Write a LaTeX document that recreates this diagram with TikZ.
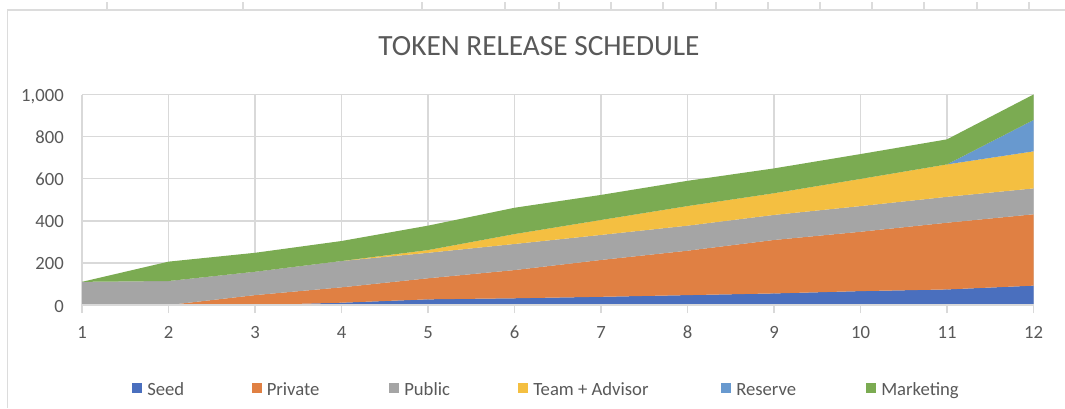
\documentclass[tikz,border=0pt]{standalone}
\usepackage{fontspec}
\setmainfont{Carlito}
\definecolor{cSeed}{HTML}{4A6FBE}
\definecolor{cPrivate}{HTML}{E08043}
\definecolor{cPublic}{HTML}{A5A5A5}
\definecolor{cTeam}{HTML}{F4BF41}
\definecolor{cReserve}{HTML}{6899CF}
\definecolor{cMarketing}{HTML}{7BAB52}
\definecolor{txt}{HTML}{595959}
\definecolor{gridc}{HTML}{D9D9D9}
\definecolor{framec}{HTML}{DCDCDC}
\tikzset{
  gridline/.style={draw=gridc, line width=1.1pt},
  axisline/.style={draw=gridc, line width=1.1pt},
  framel/.style={draw=framec, line width=1.3pt},
  coltick/.style={draw=framec, line width=1pt},
  ylab/.style={text=txt, font=\fontsize{14}{16}\selectfont, inner sep=0pt, anchor=base east},
  xlab/.style={text=txt, font=\fontsize{14}{16}\selectfont, inner sep=0pt, anchor=base},
  leglab/.style={text=txt, font=\fontsize{14}{16}\selectfont, inner sep=0pt, anchor=base west},
  legsq/.style={minimum size=7.5pt, inner sep=0pt, anchor=north west},
  titlestyle/.style={text=txt, font=\fontsize{22}{26}\selectfont, inner sep=0pt, anchor=base},
}
\begin{document}
\begin{tikzpicture}[x=0.75pt,y=-0.75pt]
\useasboundingbox (0,0) rectangle (1065,408);
\fill[white] (0,0) rectangle (1065,408);
% sheet column marks and chart frame
\foreach \c in {107,243,422,505,559,611,663,716,768,820,872,924,977,1029}
  \draw[coltick] (\c,2) -- (\c,10);
\draw[framel] (7.5,408) -- (7.5,10) -- (1065,10);
% title
\node[titlestyle] (title) at (539,55.5) {TOKEN RELEASE SCHEDULE};
% plot
\begin{scope}[shift={(-4.5,305)}, x=64.875pt, y=0.157875pt]
  \foreach \v in {200,400,...,1000} \draw[gridline] (1,\v) -- (12,\v);
  \foreach \i in {1,...,12} \draw[gridline] (\i,-38) -- (\i,1000);
  % Seed
  \fill[cSeed] (1,0) -- (2,0) -- (3,0) -- (4,11) -- (5,27) -- (6,32) -- (7,39) -- (8,47) -- (9,55) -- (10,66) -- (11,74) -- (12,92) -- (12,0) -- cycle;
  % Private
  \fill[cPrivate] (1,0) -- (2,0) -- (3,47) -- (4,84) -- (5,127) -- (6,166) -- (7,214) -- (8,258) -- (9,309) -- (10,348) -- (11,391) -- (12,431)
    -- (12,92) -- (11,74) -- (10,66) -- (9,55) -- (8,47) -- (7,39) -- (6,32) -- (5,27) -- (4,11) -- (3,0) -- (2,0) -- cycle;
  % Public
  \fill[cPublic] (1,110) -- (2,114) -- (3,158) -- (4,209) -- (5,248) -- (6,290) -- (7,333) -- (8,377) -- (9,428) -- (10,470) -- (11,514) -- (12,554)
    -- (12,431) -- (11,391) -- (10,348) -- (9,309) -- (8,258) -- (7,214) -- (6,166) -- (5,127) -- (4,84) -- (3,47) -- (2,0) -- (1,0) -- cycle;
  % Team + Advisor
  \fill[cTeam] (4,209) -- (5,261) -- (6,337) -- (7,404) -- (8,470) -- (9,531) -- (10,599) -- (11,668) -- (12,730)
    -- (12,554) -- (11,514) -- (10,470) -- (9,428) -- (8,377) -- (7,333) -- (6,290) -- (5,248) -- cycle;
  % Reserve
  \fill[cReserve] (11,668) -- (12,879) -- (12,730) -- cycle;
  % Marketing
  \fill[cMarketing] (1,110) -- (2,206) -- (3,248) -- (4,304) -- (5,377) -- (6,462) -- (7,523) -- (8,590) -- (9,649) -- (10,717) -- (11,787) -- (12,1000)
    -- (12,879) -- (11,668) -- (10,599) -- (9,531) -- (8,470) -- (7,404) -- (6,337) -- (5,261) -- (4,209) -- (3,158) -- (2,114) -- cycle;
  \draw[axisline] (1,0) -- (12,0);
  \foreach \v/\t in {0/0,200/200,400/400,600/600,800/800,1000/{1,000}}
    \node[ylab] (y\v) at ([xshift=-13.5pt,yshift=-5.25pt]1,\v) {\t};
  \foreach \i in {1,...,12}
    \node[xlab] (x\i) at ([yshift=-24.75pt]\i,0) {\i};
\end{scope}
% legend
\foreach \n/\c/\t/\x in {seed/cSeed/Seed/147, priv/cPrivate/Private/266.5, pub/cPublic/Public/404, team/cTeam/Team + Advisor/533, res/cReserve/Reserve/736, mkt/cMarketing/Marketing/881}{
  \node[legsq, fill=\c] (sq\n) at (\x-15,383) {};
  \node[leglab] (lg\n) at (\x,395) {\t};
}
\end{tikzpicture}
\end{document}
